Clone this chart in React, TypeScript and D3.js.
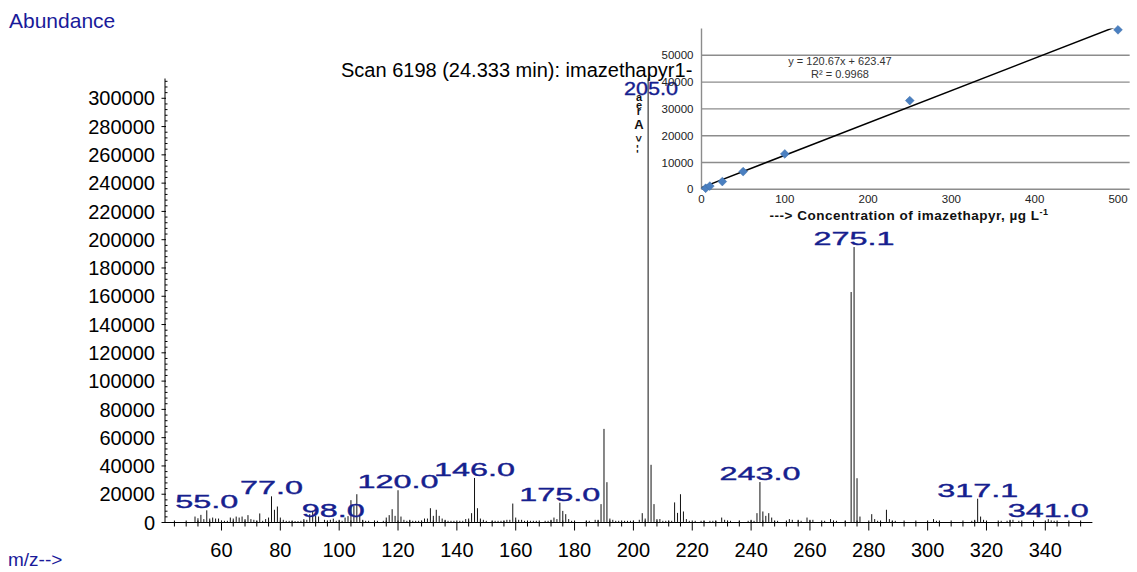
import React from 'react';
import * as d3 from 'd3';

// ---------- Main spectrum data ----------
const mzValues = [
  51, 52, 53, 54, 55, 56, 57, 58, 59, 60, 61, 62, 63, 64, 65, 66, 67, 68, 69, 70,
  71, 72, 73, 74, 75, 76, 77, 78, 79, 80, 81, 82, 83, 84, 85, 86, 87, 88, 89, 90,
  91, 92, 93, 95, 96, 97, 98, 99, 100, 101, 102, 103, 104, 105, 106, 107, 108, 109, 110, 112,
  113, 115, 116, 117, 118, 119, 120, 121, 122, 123, 124, 125, 126, 127, 128, 129, 130, 131, 132, 133,
  134, 135, 136, 137, 138, 139, 141, 142, 143, 144, 145, 146, 147, 148, 149, 150, 152, 153, 154, 155,
  156, 157, 158, 159, 160, 161, 162, 163, 165, 166, 167, 170, 171, 172, 173, 174, 175, 176, 177, 178,
  179, 184, 185, 187, 188, 189, 190, 191, 192, 193, 194, 195, 197, 198, 199, 200, 202, 203, 204, 205,
  206, 207, 208, 209, 210, 211, 212, 213, 214, 215, 216, 217, 218, 219, 221, 223, 224, 226, 227, 228,
  230, 231, 232, 233, 236, 239, 240, 241, 242, 243, 244, 245, 246, 247, 248, 249, 253, 254, 256, 257,
  259, 260, 261, 265, 267, 268, 269, 272, 274, 275, 276, 277, 281, 282, 283, 286, 287, 288, 289, 302,
  303, 315, 316, 317, 318, 319, 325, 327, 328, 329, 331, 341, 342, 343,
];
const abundances = [
  4200, 3000, 5400, 2400, 8600, 2800, 3500, 2800, 2800, 1200, 1200, 1200, 3500, 2800, 4200, 3500, 4200, 2400, 5200, 2400,
  1900, 1200, 6400, 1200, 2400, 3500, 18500, 9000, 11300, 3500, 1900, 1200, 1200, 1000, 1000, 1000, 1200, 2400, 1900, 5900,
  8200, 4700, 4200, 1900, 1200, 1900, 2700, 1200, 1900, 1200, 3500, 4500, 15800, 12000, 20000, 5000, 1900, 1200, 1200, 1200,
  1200, 1200, 3500, 5200, 9400, 4700, 22800, 4200, 1900, 1200, 1900, 1200, 1200, 1200, 1200, 2800, 2800, 10100, 4700, 9000,
  4700, 2800, 1900, 1200, 1200, 1200, 1200, 1200, 2400, 2800, 6600, 31500, 10100, 2800, 1900, 1200, 1200, 1200, 1200, 1200,
  1200, 1900, 1900, 13400, 3500, 1900, 1900, 1200, 1200, 1200, 1200, 1200, 1200, 1900, 3500, 2400, 14000, 8200, 5900, 2400,
  1200, 1200, 1200, 1900, 1900, 13000, 66200, 28500, 2800, 1900, 1200, 1200, 1200, 1200, 1200, 1200, 1900, 6600, 2800, 330000,
  40800, 13000, 2400, 2400, 1200, 1200, 1200, 1200, 14200, 6800, 20000, 7800, 2400, 1200, 1200, 1200, 1200, 1200, 1200, 1200,
  3500, 1900, 1200, 1200, 1200, 1200, 1900, 1200, 6600, 28600, 7800, 4700, 6600, 3500, 1200, 1200, 2400, 1900, 1900, 1200,
  3500, 1900, 1900, 1200, 2400, 1200, 1200, 1200, 163000, 194800, 31300, 4200, 5900, 2400, 1200, 9000, 2400, 1200, 1200, 2400,
  1200, 1200, 1900, 16800, 4200, 1900, 1200, 1200, 1900, 1900, 1200, 2400, 1500, 1200,
];

const peakLabelMz = [55, 77, 98, 120, 146, 175, 205, 243, 275, 317, 341];
const peakLabelText = ['55.0', '77.0', '98.0', '120.0', '146.0', '175.0', '205.0', '243.0', '275.1', '317.1', '341.0'];

const yTickValues = [0, 20000, 40000, 60000, 80000, 100000, 120000, 140000, 160000, 180000, 200000, 220000, 240000, 260000, 280000, 300000];
const xTickValues = [60, 80, 100, 120, 140, 160, 180, 200, 220, 240, 260, 280, 300, 320, 340];

// ---------- Inset calibration data ----------
const concentration = [5, 10, 25, 50, 100, 250, 500];
const peakArea = [400, 1200, 2900, 6600, 13200, 33100, 59500];
const insetYTicks = [0, 10000, 20000, 30000, 40000, 50000];
const insetXTicks = [0, 100, 200, 300, 400, 500];
const fitSlope = 120.67;
const fitIntercept = 623.47;
const stackedAxisChars = ['a', 'e', 'r', 'A', '>', '-', '-'];

const FONT = "'Liberation Sans', Arial, Helvetica, sans-serif";
const BLUE = '#1a1a9a';
const LABEL_BLUE = '#15208e';

export default function App() {
  const W = 1137;
  const H = 572;

  const x = d3.scaleLinear().domain([40.8, 356]).range([165, 1092.4]);
  const y = d3.scaleLinear().domain([0, 314000]).range([522.5, 78.5]).clamp(true);

  const xMinor = d3.range(44, 356, 4).filter((v) => v % 20 !== 0);
  const yMinor = d3.range(0, 314000, 4000).filter((v) => v % 20000 !== 0);

  const valueOf = (m: number) => abundances[mzValues.indexOf(m)] ?? 0;

  // inset scales
  const xi = d3.scaleLinear().domain([0, 500]).range([701.5, 1118]);
  const yi = d3.scaleLinear().domain([0, 60000]).range([189.3, 28.5]);
  const insetRight = xi(514);
  const fitLine = d3
    .line<number>()
    .x((c) => xi(c))
    .y((c) => yi(fitSlope * c + fitIntercept));
  const diamond = (cx: number, cy: number, r: number) =>
    `M${cx},${cy - r}L${cx + r},${cy}L${cx},${cy + r}L${cx - r},${cy}Z`;

  const y0 = y(0);
  const stackY = [101, 108.5, 115, 129, 135.5, 144.5, 149.5];

  return (
    <svg
      width={W}
      height={H}
      style={{ position: 'absolute', left: 0, top: 0, background: '#fff' }}
      fontFamily={FONT}
    >
      <rect x={0} y={0} width={W} height={H} fill="#fff" />

      {/* Axis titles */}
      <text x={9} y={28} fontSize={21} fill={BLUE}>Abundance</text>
      <text x={8} y={566} fontSize={19} fill={BLUE}>m/z--&gt;</text>
      <text x={341} y={76.5} fontSize={20} fill="#000">Scan 6198 (24.333 min): imazethapyr1-</text>

      {/* Y axis */}
      <line x1={x.range()[0]} x2={x.range()[0]} y1={y.range()[1]} y2={y0} stroke="#000" strokeWidth={1} />
      {yTickValues.map((v) => (
        <g key={'yt' + v}>
          <line x1={x.range()[0] - 3.5} x2={x.range()[0] + 1} y1={y(v)} y2={y(v)} stroke="#000" strokeWidth={1} />
          <text x={155} y={y(v)} dy="0.36em" textAnchor="end" fontSize={20} fill="#000">{v}</text>
        </g>
      ))}
      {yMinor.map((v) => (
        <line key={'ym' + v} x1={x.range()[0]} x2={x.range()[0] + 2.5} y1={y(v)} y2={y(v)} stroke="#000" strokeWidth={1} />
      ))}

      {/* X axis */}
      <line x1={x.range()[0]} x2={x.range()[1]} y1={y0} y2={y0} stroke="#000" strokeWidth={1} />
      {xMinor.map((v) => (
        <line key={'xm' + v} x1={x(v)} x2={x(v)} y1={y0 - 2} y2={y0 + 4} stroke="#000" strokeWidth={1} />
      ))}
      {xTickValues.map((v) => (
        <g key={'xt' + v}>
          <line x1={x(v)} x2={x(v)} y1={y0 - 2} y2={y0 + 8} stroke="#000" strokeWidth={1} />
          <text x={x(v)} y={556.5} textAnchor="middle" fontSize={20} fill="#000">{v}</text>
        </g>
      ))}

      {/* Spectrum bars */}
      {mzValues.map((m, i) => (
        <line key={'b' + m} x1={x(m)} x2={x(m)} y1={y0} y2={y(abundances[i])} stroke="#111" strokeWidth={1} />
      ))}

      {/* Peak labels */}
      {peakLabelMz.map((m, i) => {
        const v = valueOf(m);
        const top = y(v);
        const clipped = top <= y.range()[1] + 1;
        const ly = clipped ? y.range()[1] + 16.5 : top - 2;
        const sx = clipped ? 1.2 : 1.85;
        return (
          <text
            key={'pl' + m}
            transform={`translate(${x(m) + (clipped ? 3 : 0)},${ly}) scale(${sx},1)`}
            textAnchor="middle"
            fontSize={clipped ? 18 : 17.5}
            fill={LABEL_BLUE}
            stroke={LABEL_BLUE}
            strokeWidth={0.35}
          >
            {peakLabelText[i]}
          </text>
        );
      })}

      {/* ---------- Inset calibration chart ---------- */}
      <g>
        <defs>
          <clipPath id="insetClip">
            <rect x={xi(0)} y={yi(60000)} width={insetRight - xi(0)} height={yi(0) - yi(60000)} />
          </clipPath>
        </defs>
        {insetYTicks.filter((v) => v > 0).map((v) => (
          <line key={'ig' + v} x1={xi(0)} x2={insetRight} y1={yi(v)} y2={yi(v)} stroke="#8c8c8c" strokeWidth={1.4} />
        ))}
        <line x1={xi(0)} x2={xi(0)} y1={yi(60000)} y2={yi(0)} stroke="#8c8c8c" strokeWidth={1.4} />
        <line x1={xi(0)} x2={insetRight} y1={yi(0)} y2={yi(0)} stroke="#8c8c8c" strokeWidth={1.6} />
        {insetYTicks.map((v) => (
          <text key={'iyl' + v} x={xi(0) - 8} y={yi(v)} dy="0.35em" textAnchor="end" fontSize={11.5} fill="#222">{v}</text>
        ))}
        {insetXTicks.map((v) => (
          <text key={'ixl' + v} x={xi(v)} y={203} textAnchor="middle" fontSize={11.5} fill="#222">{v}</text>
        ))}
        <path d={fitLine([0, 514]) ?? ''} fill="none" stroke="#000" strokeWidth={1.5} clipPath="url(#insetClip)" />
        {concentration.map((c, i) => (
          <path key={'pt' + c} d={diamond(xi(c), yi(peakArea[i]), 4.4)} fill="#4a7fc0" stroke="#3d6ea8" strokeWidth={0.5} />
        ))}
        <text x={840} y={65} textAnchor="middle" fontSize={11} fill="#333">y = 120.67x + 623.47</text>
        <text x={840} y={78} textAnchor="middle" fontSize={11} fill="#333">R² = 0.9968</text>
        <text x={909} y={220} textAnchor="middle" fontSize={13.5} fontWeight="bold" letterSpacing={0.5} fill="#111">
          ---&gt; Concentration of imazethapyr, µg L
          <tspan dy={-5} fontSize={9}>-1</tspan>
        </text>
        {/* stacked vertical axis title */}
        <text fontWeight="bold" fill="#111" fontSize={11}>
          {stackedAxisChars.map((ch, i) => {
            const rot = ch === '>' || ch === '-';
            return (
              <tspan
                key={'sc' + i}
                x={rot ? 635 : 639}
                y={stackY[i]}
                textAnchor={rot ? 'start' : 'middle'}
                rotate={rot ? 90 : 0}
                fontSize={ch === 'A' ? 13 : 11}
              >
                {ch}
              </tspan>
            );
          })}
        </text>
      </g>
    </svg>
  );
}
